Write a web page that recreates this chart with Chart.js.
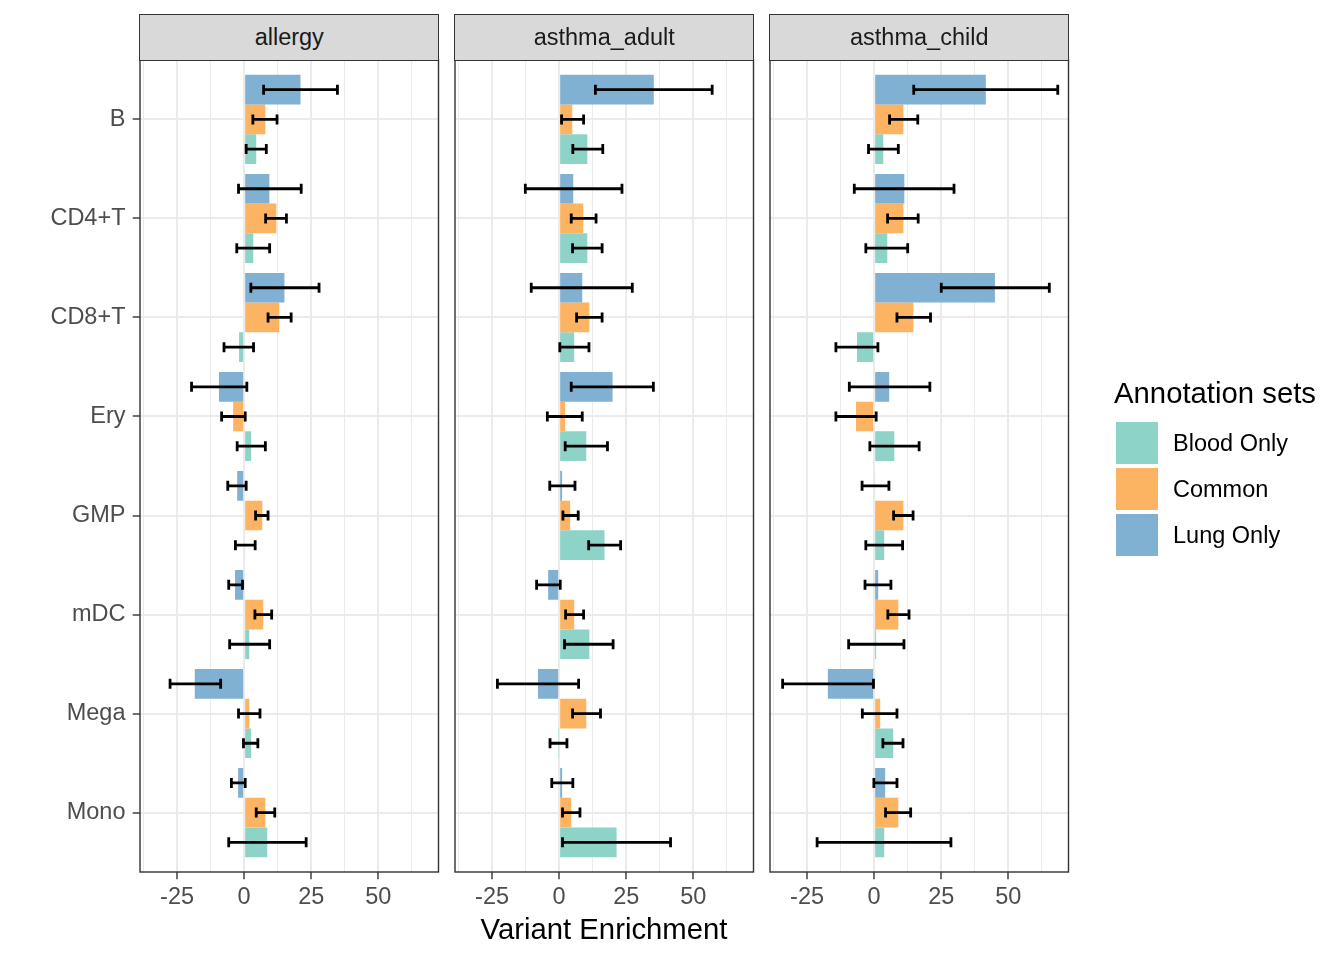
<!DOCTYPE html>
<html>
<head>
<meta charset="utf-8">
<script src="https://cdn.jsdelivr.net/npm/chart.js@4/dist/chart.umd.min.js"></script>
<style>
html,body{margin:0;padding:0;background:#fff;}
#wrap{position:relative;width:1344px;height:960px;overflow:hidden;font-family:"Liberation Sans",Arial,sans-serif;background:#fff;}
#wrap canvas{position:absolute;left:0;top:0;}
.strip{position:absolute;top:14.3px;height:46.4px;box-sizing:border-box;background:#D9D9D9;border:1.4px solid #333333;color:#1A1A1A;font-size:23.5px;display:flex;align-items:center;justify-content:center;}
#xtitle{position:absolute;left:140px;width:928px;top:911.8px;line-height:34px;font-size:29.3px;text-align:center;color:#000;}
#legtitle{position:absolute;left:1114px;top:375.8px;line-height:34px;font-size:29.3px;color:#000;white-space:nowrap;}
.key{position:absolute;left:1116px;width:41.7px;height:41.7px;}
.klab{position:absolute;left:1173px;height:41.7px;display:flex;align-items:center;font-size:23.5px;color:#000;white-space:nowrap;}
</style>
</head>
<body>
<div id="wrap">
  <canvas id="c0" width="1344" height="960"></canvas>
  <canvas id="c1" width="1344" height="960"></canvas>
  <canvas id="c2" width="1344" height="960"></canvas>
  <div id="strips"></div>
  <div id="xtitle">Variant Enrichment</div>
  <div id="legend"></div>
</div>
<script>
// ---------------- DATA ----------------
const categories = ['B', 'CD4+T', 'CD8+T', 'Ery', 'GMP', 'mDC', 'Mega', 'Mono'];
const panels = ['allergy', 'asthma_adult', 'asthma_child'];
const seriesNames = ['Lung Only', 'Common', 'Blood Only'];
const legendOrder = ['Blood Only', 'Common', 'Lung Only'];
const xGridValues = [-37.5, -25, -12.5, 0, 12.5, 25, 37.5, 50, 62.5];
const xTickLabels = ['-25', '0', '25', '50'];

// allergy
const allergy_lung      = [21, 9.4, 15, -9.4, -2.6, -3.4, -18.4, -2.25];
const allergy_lung_lo   = [7.25, -2.1, 2.5, -19.6, -6.1, -5.75, -27.6, -4.75];
const allergy_lung_hi   = [34.75, 21.25, 27.9, 1, 0.75, -0.6, -8.75, 0.4];
const allergy_common    = [7.9, 12, 13.1, -4.1, 6.75, 7.1, 1.9, 7.9];
const allergy_common_lo = [3.25, 8, 8.9, -8.4, 4.25, 4, -2.1, 4.5];
const allergy_common_hi = [12.25, 15.75, 17.5, 0.4, 8.9, 10.25, 5.9, 11.4];
const allergy_blood     = [4.5, 3.4, -1.9, 2.6, 0.4, 1.9, 2.6, 8.6];
const allergy_blood_lo  = [0.75, -2.75, -7.5, -2.6, -3.25, -5.4, -0.25, -5.75];
const allergy_blood_hi  = [8.25, 9.5, 3.5, 7.9, 4.1, 9.5, 5.1, 23.1];

// asthma_adult
const adult_lung      = [35.25, 5.25, 8.6, 19.9, 1.1, -4.1, -7.9, 1.1];
const adult_lung_lo   = [13.5, -12.6, -10.4, 4.5, -3.5, -8.4, -23, -2.75];
const adult_lung_hi   = [57, 23.4, 27.25, 35.1, 5.9, 0.4, 7.25, 5.1];
const adult_common    = [4.9, 9, 11.25, 2.25, 4.1, 5.6, 10.1, 4.5];
const adult_common_lo = [0.9, 4.5, 6.5, -4.4, 1.4, 2.4, 5, 1.25];
const adult_common_hi = [9.1, 13.75, 16, 8.6, 7.1, 9.1, 15.4, 7.75];
const adult_blood     = [10.5, 10.5, 5.6, 10.1, 16.9, 11.25, -0.25, 21.4];
const adult_blood_lo  = [5.1, 5, 0.25, 2.25, 11, 2, -3.4, 1.25];
const adult_blood_hi  = [16.25, 16, 11.1, 18, 22.9, 20.1, 2.9, 41.5];

// asthma_child
const child_lung      = [41.6, 11.25, 45, 5.6, 0.4, 1.5, -17.25, 4.1];
const child_lung_lo   = [14.75, -7.4, 25, -9.25, -4.5, -3.4, -34.1, -0.1];
const child_lung_hi   = [68.4, 29.75, 65.25, 20.75, 5.5, 6.25, -0.25, 8.5];
const child_common    = [10.9, 10.9, 14.6, -6.75, 10.9, 9, 2.25, 9];
const child_common_lo = [5.75, 5, 8.5, -14.25, 7.25, 5.1, -4.4, 4.25];
const child_common_hi = [16.25, 16.4, 21, 0.75, 14.5, 13, 8.5, 13.6];
const child_blood     = [3.4, 4.9, -6.4, 7.5, 3.75, 0.75, 7.1, 3.75];
const child_blood_lo  = [-2.1, -3.1, -14.25, -1.6, -3.1, -9.5, 3.25, -21.25];
const child_blood_hi  = [9, 12.5, 1.4, 16.75, 10.6, 11.1, 10.75, 28.6];

// ---------------- ASSEMBLY ----------------
const panelSeries = [
  [[allergy_lung, allergy_lung_lo, allergy_lung_hi],
   [allergy_common, allergy_common_lo, allergy_common_hi],
   [allergy_blood, allergy_blood_lo, allergy_blood_hi]],
  [[adult_lung, adult_lung_lo, adult_lung_hi],
   [adult_common, adult_common_lo, adult_common_hi],
   [adult_blood, adult_blood_lo, adult_blood_hi]],
  [[child_lung, child_lung_lo, child_lung_hi],
   [child_common, child_common_lo, child_common_hi],
   [child_blood, child_blood_lo, child_blood_hi]]
];

const colors = {'Blood Only': '#8DD3C7', 'Common': '#FDB462', 'Lung Only': '#80B1D3'};
const panelLeft = [140, 455, 770];
const panelW = 298.5;
const plotTop = 60, plotBottom = 872;
const FONT = '"Liberation Sans", Arial, sans-serif';
Chart.defaults.font.family = FONT;

const isMajor = v => Math.abs(v % 25) < 1e-9;

const errorBarPlugin = {
  id: 'errbars',
  afterDatasetsDraw(chart) {
    const ctx = chart.ctx, xs = chart.scales.x;
    const cap = 5;
    ctx.save();
    ctx.strokeStyle = '#000';
    ctx.lineWidth = 2.8;
    chart.data.datasets.forEach((ds, di) => {
      const meta = chart.getDatasetMeta(di);
      meta.data.forEach((bar, i) => {
        const y = bar.y;
        const x1 = xs.getPixelForValue(ds.errLo[i]);
        const x2 = xs.getPixelForValue(ds.errHi[i]);
        ctx.beginPath();
        ctx.moveTo(x1, y); ctx.lineTo(x2, y);
        ctx.moveTo(x1, y - cap); ctx.lineTo(x1, y + cap);
        ctx.moveTo(x2, y - cap); ctx.lineTo(x2, y + cap);
        ctx.stroke();
      });
    });
    ctx.restore();
  }
};

const borderPlugin = {
  id: 'panelborder',
  afterDraw(chart) {
    const a = chart.chartArea, ctx = chart.ctx;
    ctx.save();
    ctx.strokeStyle = '#333333';
    ctx.lineWidth = 1.4;
    ctx.strokeRect(a.left, a.top, a.right - a.left, a.bottom - a.top);
    ctx.restore();
  }
};

function makeChart(pi) {
  const showY = pi === 0;
  const left = panelLeft[pi];
  const datasets = seriesNames.map((name, si) => {
    const [vals, lo, hi] = panelSeries[pi][si];
    return {
      label: name,
      data: vals.map((v, i) => ({x: v, y: i})),
      errLo: lo,
      errHi: hi,
      backgroundColor: colors[name],
      borderWidth: 0,
      categoryPercentage: 0.9,
      barPercentage: 1.0
    };
  });
  return new Chart(document.getElementById('c' + pi), {
    type: 'bar',
    data: {datasets},
    options: {
      indexAxis: 'y',
      responsive: false,
      animation: false,
      layout: {padding: {left: showY ? 0 : left, right: 1344 - (left + panelW), top: plotTop, bottom: 0}},
      plugins: {legend: {display: false}, tooltip: {enabled: false}, title: {display: false}},
      scales: {
        x: {
          type: 'linear', position: 'bottom', offset: false,
          min: -38.8, max: 72.4,
          afterBuildTicks: s => { s.ticks = xGridValues.map(v => ({value: v})); },
          afterFit: s => { s.height = 960 - plotBottom; },
          ticks: {
            autoSkip: false, maxRotation: 0, minRotation: 0, padding: 4,
            color: '#4D4D4D', font: {size: 23.5, family: FONT},
            callback: v => (isMajor(v) && xTickLabels.includes(String(v))) ? String(v) : ''
          },
          grid: {
            offset: false,
            color: '#EBEBEB',
            lineWidth: c => (c.tick && isMajor(c.tick.value)) ? 2 : 1,
            drawTicks: true, tickLength: 7.3,
            tickColor: c => (c.tick && isMajor(c.tick.value)) ? '#333333' : 'rgba(0,0,0,0)',
            tickWidth: 1.4
          },
          border: {display: false}
        },
        y: {
          type: 'linear', position: 'left', reverse: true, offset: false,
          min: -0.6, max: categories.length - 1 + 0.6,
          afterBuildTicks: s => { s.ticks = categories.map((c, i) => ({value: i})); },
          afterFit: s => { s.width = showY ? panelLeft[0] : 0; },
          ticks: {
            display: showY, padding: 7.2,
            color: '#4D4D4D', font: {size: 23.5, family: FONT},
            callback: v => categories[v]
          },
          grid: {
            offset: false,
            color: '#EBEBEB', lineWidth: 2,
            drawTicks: showY, tickLength: 7.3,
            tickColor: '#333333', tickWidth: 1.4
          },
          border: {display: false}
        }
      }
    },
    plugins: [errorBarPlugin, borderPlugin]
  });
}

panels.forEach((p, pi) => makeChart(pi));

// strips
const strips = document.getElementById('strips');
panels.forEach((p, pi) => {
  const d = document.createElement('div');
  d.className = 'strip';
  d.style.left = (panelLeft[pi] - 0.7) + 'px';
  d.style.width = (panelW + 1.4) + 'px';
  d.textContent = p;
  strips.appendChild(d);
});

// legend
const leg = document.getElementById('legend');
const t = document.createElement('div');
t.id = 'legtitle';
t.textContent = 'Annotation sets';
leg.appendChild(t);
const keyTops = [422.3, 468.3, 514.3];
legendOrder.forEach((name, i) => {
  const k = document.createElement('div');
  k.className = 'key';
  k.style.top = keyTops[i] + 'px';
  k.style.background = colors[name];
  leg.appendChild(k);
  const l = document.createElement('div');
  l.className = 'klab';
  l.style.top = keyTops[i] + 'px';
  l.textContent = name;
  leg.appendChild(l);
});
</script>
</body>
</html>
